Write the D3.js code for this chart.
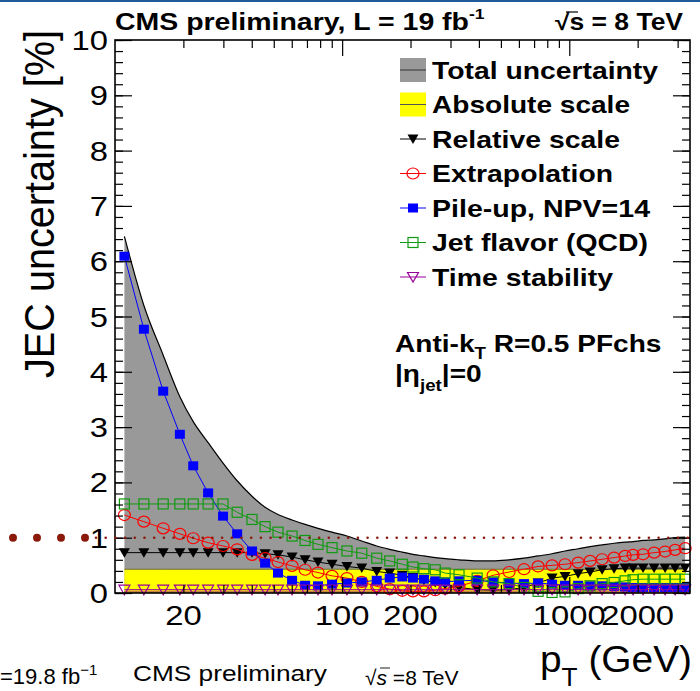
<!DOCTYPE html>
<html>
<head>
<meta charset="utf-8">
<script src="https://cdn.jsdelivr.net/npm/d3@7"></script>
<style>
  html, body { margin: 0; padding: 0; background: #fff; }
  #chart { width: 700px; height: 691px; }
  text { font-family: "Liberation Sans", Arial, sans-serif; fill: #000; }
</style>
</head>
<body>
<div id="chart"></div>
<script>
// pT points (GeV), shared by every source
const ptBins = [11, 13.4, 16.3, 19.3, 22.1, 25.7, 29.9, 34.5, 40.1, 45.8,
  52.2, 60.2, 68.7, 78.3, 90.3, 105, 122, 142, 162, 184,
  205, 229, 257, 284, 327, 393, 462, 543, 632, 729,
  840, 958, 1094, 1235, 1395, 1575, 1761, 1909, 2113, 2363,
  2641, 2924, 3236];

// uncertainties in %
const totalUnc = [6.45, 5.2, 4.3, 3.55, 3.1, 2.72, 2.35, 2.03, 1.75, 1.55,
  1.42, 1.32, 1.24, 1.17, 1.1, 1.03, 0.94, 0.85, 0.79, 0.74,
  0.7, 0.67, 0.64, 0.62, 0.6, 0.58, 0.58, 0.6, 0.63, 0.67,
  0.71, 0.76, 0.8, 0.84, 0.87, 0.9, 0.92, 0.93, 0.95, 0.96,
  0.98, 1.0, 1.01];
const absoluteUnc = [0.43, 0.43, 0.43, 0.43, 0.43, 0.43, 0.43, 0.43, 0.43, 0.43,
  0.43, 0.43, 0.43, 0.43, 0.43, 0.43, 0.43, 0.43, 0.43, 0.43,
  0.43, 0.43, 0.43, 0.43, 0.43, 0.43, 0.43, 0.43, 0.43, 0.43,
  0.43, 0.43, 0.43, 0.43, 0.43, 0.43, 0.43, 0.43, 0.43, 0.43,
  0.43, 0.43, 0.43];
const relativeUnc = [0.73, 0.73, 0.73, 0.73, 0.73, 0.73, 0.73, 0.73, 0.73, 0.71,
  0.69, 0.65, 0.6, 0.56, 0.52, 0.48, 0.45, 0.39, 0.36, 0.32,
  0.28, 0.23, 0.19, 0.15, 0.1, 0.06, 0.05, 0.06, 0.1, 0.18,
  0.27, 0.3, 0.35, 0.38, 0.42, 0.44, 0.45, 0.45, 0.45, 0.45,
  0.45, 0.45, 0.45];
const extrapUnc = [1.41, 1.29, 1.17, 1.07, 0.99, 0.91, 0.85, 0.79, 0.69, 0.63,
  0.56, 0.49, 0.42, 0.37, 0.31, 0.27, 0.2, 0.12, 0.07, 0.04,
  0.03, 0.03, 0.05, 0.08, 0.12, 0.22, 0.32, 0.38, 0.43, 0.48,
  0.5, 0.52, 0.55, 0.58, 0.61, 0.64, 0.67, 0.69, 0.7, 0.73,
  0.75, 0.78, 0.81];
const pileupUnc = [6.09, 4.77, 3.65, 2.87, 2.3, 1.81, 1.39, 1.07, 0.76, 0.54,
  0.36, 0.23, 0.14, 0.13, 0.16, 0.18, 0.2, 0.23, 0.27, 0.29,
  0.27, 0.25, 0.22, 0.2, 0.22, 0.23, 0.2, 0.18, 0.17, 0.18,
  0.16, 0.14, 0.14, 0.13, 0.13, 0.12, 0.11, 0.1, 0.1, 0.1,
  0.1, 0.1, 0.1];
const flavorUnc = [1.61, 1.61, 1.61, 1.61, 1.61, 1.61, 1.61, 1.46, 1.33, 1.2,
  1.1, 1.03, 0.95, 0.88, 0.82, 0.76, 0.72, 0.63, 0.58, 0.52,
  0.47, 0.44, 0.42, 0.36, 0.33, 0.27, 0.2, 0.17, 0.1, 0.03,
  0.01, 0.02, 0.08, 0.13, 0.17, 0.19, 0.22, 0.24, 0.25, 0.25,
  0.25, 0.25, 0.25];
const timeUnc = [0.06, 0.06, 0.06, 0.06, 0.06, 0.06, 0.06, 0.06, 0.06, 0.06,
  0.06, 0.06, 0.06, 0.06, 0.06, 0.06, 0.06, 0.06, 0.06, 0.06,
  0.06, 0.06, 0.06, 0.06, 0.06, 0.06, 0.06, 0.06, 0.06, 0.06,
  0.06, 0.06, 0.06, 0.06, 0.06, 0.06, 0.06, 0.06, 0.06, 0.06,
  0.06, 0.06, 0.06];

const xTickLabels = [20, 100, 200, 1000, 2000];
const xMajorTicks = [100, 1000];
const xMinorTicks = [20, 30, 40, 50, 60, 70, 80, 90, 200, 300, 400, 500, 600, 700, 800, 900, 2000, 3000];
const yTickLabels = [0, 1, 2, 3, 4, 5, 6, 7, 8, 9, 10];
const refLevel = 1;

const legendNames = ['Total uncertainty', 'Absolute scale', 'Relative scale', 'Extrapolation',
  'Pile-up, NPV=14', 'Jet flavor (QCD)', 'Time stability'];

// sizes
const width = 700, height = 691;
const frame = { left: 115, right: 690, top: 40, bottom: 593 };
const sx = 1.17; // the plot text is a bit wider than tall

const svg = d3.select('#chart').append('svg')
  .attr('width', width)
  .attr('height', height);

svg.append('rect').attr('width', width).attr('height', height).attr('fill', '#fff');

// scales
const x = d3.scaleLog().domain([10, 3400]).range([frame.left, frame.right]);
const y = d3.scaleLinear().domain([0, 10]).range([frame.bottom, frame.top]);

const pts = (vals) => ptBins.map((p, i) => ({ pt: p, v: vals[i] }));

// total uncertainty band (smooth curve)
svg.append('path')
  .datum(pts(totalUnc))
  .attr('fill', '#999999')
  .attr('d', d3.area().curve(d3.curveMonotoneX).x(d => x(d.pt)).y0(y(0)).y1(d => y(d.v)));
svg.append('path')
  .datum(pts(totalUnc))
  .attr('fill', 'none').attr('stroke', '#000').attr('stroke-width', 1.2)
  .attr('d', d3.line().curve(d3.curveMonotoneX).x(d => x(d.pt)).y(d => y(d.v)));

// absolute scale band
svg.append('path')
  .datum(pts(absoluteUnc))
  .attr('fill', '#ffff00')
  .attr('d', d3.area().x(d => x(d.pt)).y0(y(0)).y1(d => y(d.v)));
svg.append('path')
  .datum(pts(absoluteUnc))
  .attr('fill', 'none').attr('stroke', '#6f6f30').attr('stroke-width', 1)
  .attr('d', d3.line().x(d => x(d.pt)).y(d => y(d.v)));

// thin band under the time stability points
svg.append('path')
  .datum(pts(timeUnc))
  .attr('fill', '#c8843e')
  .attr('d', d3.area().x(d => x(d.pt)).y0(y(0)).y1(d => y(d.v) + 1));

// markers
function drawMarker(g, kind, color) {
  if (kind === 'squareFilled') {
    g.append('rect').attr('x', -5).attr('y', -4.5).attr('width', 10).attr('height', 9).attr('fill', color);
  } else if (kind === 'squareOpen') {
    g.append('rect').attr('x', -5).attr('y', -5).attr('width', 10).attr('height', 10)
      .attr('fill', 'none').attr('stroke', color).attr('stroke-width', 1.2);
  } else if (kind === 'circleOpen') {
    g.append('ellipse').attr('rx', 6).attr('ry', 5.5)
      .attr('fill', 'none').attr('stroke', color).attr('stroke-width', 1.2);
  } else if (kind === 'triFilled') {
    g.append('path').attr('d', 'M-5.5,-4.5L5.5,-4.5L0,5Z').attr('fill', color);
  } else if (kind === 'triOpen') {
    g.append('path').attr('d', 'M-5.5,-4.5L5.5,-4.5L0,5Z')
      .attr('fill', 'none').attr('stroke', color).attr('stroke-width', 1.2);
  }
}

const seriesList = [
  { vals: relativeUnc, color: '#000000', marker: 'triFilled' },
  { vals: extrapUnc, color: '#ff0000', marker: 'circleOpen' },
  { vals: pileupUnc, color: '#0000ff', marker: 'squareFilled' },
  { vals: flavorUnc, color: '#109a10', marker: 'squareOpen' },
  { vals: timeUnc, color: '#990099', marker: 'triOpen' }
];

const lineGen = d3.line().x(d => x(d.pt)).y(d => y(d.v));
seriesList.forEach(s => {
  svg.append('path')
    .datum(pts(s.vals))
    .attr('fill', 'none')
    .attr('stroke', s.color)
    .attr('stroke-width', 1)
    .attr('d', lineGen);
  svg.append('g')
    .selectAll('g')
    .data(pts(s.vals))
    .join('g')
    .attr('transform', d => `translate(${x(d.pt)},${y(d.v)})`)
    .each(function () { drawMarker(d3.select(this), s.marker, s.color); });
});

// axes: ticks only, labels drawn below
function tickAxis(gen, values, size, transform) {
  const g = svg.append('g')
    .attr('transform', transform)
    .call(gen.tickValues(values).tickSize(size).tickSizeOuter(0).tickFormat(''));
  g.select('.domain').remove();
  g.selectAll('line').attr('stroke', '#000').attr('stroke-width', 1.2);
}
const yMinor = d3.range(0, 10.001, 0.2);
tickAxis(d3.axisBottom(x), xMinorTicks, -8, `translate(0,${frame.bottom})`);
tickAxis(d3.axisBottom(x), xMajorTicks, -16, `translate(0,${frame.bottom})`);
tickAxis(d3.axisTop(x), xMinorTicks, -8, `translate(0,${frame.top})`);
tickAxis(d3.axisTop(x), xMajorTicks, -16, `translate(0,${frame.top})`);
tickAxis(d3.axisLeft(y), yMinor, -8, `translate(${frame.left},0)`);
tickAxis(d3.axisLeft(y), yTickLabels, -17, `translate(${frame.left},0)`);
tickAxis(d3.axisRight(y), yMinor, -8, `translate(${frame.right},0)`);
tickAxis(d3.axisRight(y), yTickLabels, -17, `translate(${frame.right},0)`);

svg.append('rect')
  .attr('x', frame.left).attr('y', frame.top)
  .attr('width', frame.right - frame.left).attr('height', frame.bottom - frame.top)
  .attr('fill', 'none').attr('stroke', '#000').attr('stroke-width', 1.6);

// stretched text helper
function stretchText(str, px, py, size, opts = {}) {
  return svg.append('text')
    .attr('transform', `translate(${px},${py}) scale(${opts.sx || sx},1)`)
    .attr('font-size', size)
    .attr('font-weight', opts.weight || 'normal')
    .attr('text-anchor', opts.anchor || 'start')
    .text(str);
}

yTickLabels.forEach(v => stretchText(String(v), 108, y(v) + 10, 28, { anchor: 'end' }));
xTickLabels.forEach(v => stretchText(String(v), x(v), 625, 28, { anchor: 'middle' }));

// y axis title
svg.append('text')
  .attr('transform', 'translate(54,30) rotate(-90)')
  .attr('font-size', 43)
  .attr('text-anchor', 'end')
  .attr('textLength', 348)
  .attr('lengthAdjust', 'spacingAndGlyphs')
  .text('JEC uncertainty [%]');

// x axis title
const xt = svg.append('text')
  .attr('transform', 'translate(540,672) scale(1.05,1)')
  .attr('font-size', 37);
xt.append('tspan').text('p');
xt.append('tspan').attr('font-size', 25).attr('dy', 14).text('T');
xt.append('tspan').attr('dy', -14).text(' (GeV)');

// header
svg.append('text')
  .attr('x', 115).attr('y', 30)
  .attr('font-size', 23).attr('font-weight', 'bold')
  .attr('textLength', 354).attr('lengthAdjust', 'spacingAndGlyphs')
  .text('CMS preliminary, L = 19 fb');
stretchText('-1', 469, 19, 15, { weight: 'bold' });
svg.append('text')
  .attr('x', 555).attr('y', 30)
  .attr('font-size', 23).attr('font-weight', 'bold')
  .attr('textLength', 128).attr('lengthAdjust', 'spacingAndGlyphs')
  .text('\u221As = 8 TeV');
svg.append('line')
  .attr('x1', 566).attr('x2', 578).attr('y1', 12).attr('y2', 12)
  .attr('stroke', '#000').attr('stroke-width', 1.2);

// legend
const legendWidths = [226, 198, 188, 181, 218, 216, 181];
const legendTop = 78.5, legendStep = 34.5;
legendNames.forEach((name, i) => {
  const base = legendTop + i * legendStep;
  const cy = base - 8.5;
  svg.append('text')
    .attr('x', 432).attr('y', base)
    .attr('font-size', 24).attr('font-weight', 'bold')
    .attr('textLength', legendWidths[i]).attr('lengthAdjust', 'spacingAndGlyphs')
    .text(name);
  if (i < 2) {
    svg.append('rect').attr('x', 400).attr('y', cy - 12).attr('width', 26).attr('height', 24)
      .attr('fill', i === 0 ? '#999999' : '#ffff00');
    svg.append('line').attr('x1', 400).attr('x2', 426).attr('y1', cy).attr('y2', cy)
      .attr('stroke', i === 0 ? '#333' : '#555').attr('stroke-width', 1);
  } else {
    const s = seriesList[i - 2];
    svg.append('line').attr('x1', 400).attr('x2', 426).attr('y1', cy).attr('y2', cy)
      .attr('stroke', s.color).attr('stroke-width', 1);
    drawMarker(svg.append('g').attr('transform', `translate(413,${cy})`), s.marker, s.color);
  }
});

// jet definition
const jd = svg.append('text')
  .attr('transform', 'translate(395,352) scale(1.17,1)')
  .attr('font-size', 24).attr('font-weight', 'bold');
jd.append('tspan').text('Anti-k');
jd.append('tspan').attr('font-size', 16).attr('dy', 7).text('T');
jd.append('tspan').attr('dy', -7).text(' R=0.5 PFchs');
const eta = svg.append('text')
  .attr('transform', 'translate(395,382) scale(1.17,1)')
  .attr('font-size', 24).attr('font-weight', 'bold');
eta.append('tspan').text('|\u03B7');
eta.append('tspan').attr('font-size', 16).attr('dy', 9).text('jet');
eta.append('tspan').attr('dy', -9).text('|=0');

// dotted reference line at 1 %
const dotColor = '#8b1a0a';
[13, 37, 61, 85].forEach(px => {
  svg.append('circle').attr('cx', px).attr('cy', y(refLevel)).attr('r', 4).attr('fill', dotColor);
});
d3.range(96, frame.right, 9.7).forEach(px => {
  svg.append('circle').attr('cx', px).attr('cy', y(refLevel)).attr('r', 1.3).attr('fill', dotColor);
});

// strip at the top
svg.append('rect').attr('x', 0).attr('y', 0).attr('width', width).attr('height', 2).attr('fill', '#1f5b99');

// bottom caption strip
const lum = svg.append('text').attr('x', 0).attr('y', 684)
  .attr('font-family', '"Liberation Serif", "DejaVu Serif", serif').attr('font-size', 22);
lum.append('tspan').text('=19.8 fb');
lum.append('tspan').attr('font-size', 15).attr('dy', -9).text('\u22121');
svg.append('text').attr('x', 133).attr('y', 681)
  .attr('font-family', '"DejaVu Sans", sans-serif').attr('font-size', 22)
  .attr('textLength', 194).attr('lengthAdjust', 'spacingAndGlyphs')
  .text('CMS preliminary');
const rs = svg.append('text').attr('x', 365).attr('y', 685)
  .attr('font-family', '"Liberation Serif", "DejaVu Serif", serif').attr('font-size', 21);
rs.append('tspan').text('\u221A');
rs.append('tspan').attr('font-style', 'italic').text('s');
rs.append('tspan').text(' =8 TeV');
svg.append('line').attr('x1', 380).attr('x2', 390).attr('y1', 668).attr('y2', 668)
  .attr('stroke', '#000').attr('stroke-width', 0.9);
</script>
</body>
</html>
